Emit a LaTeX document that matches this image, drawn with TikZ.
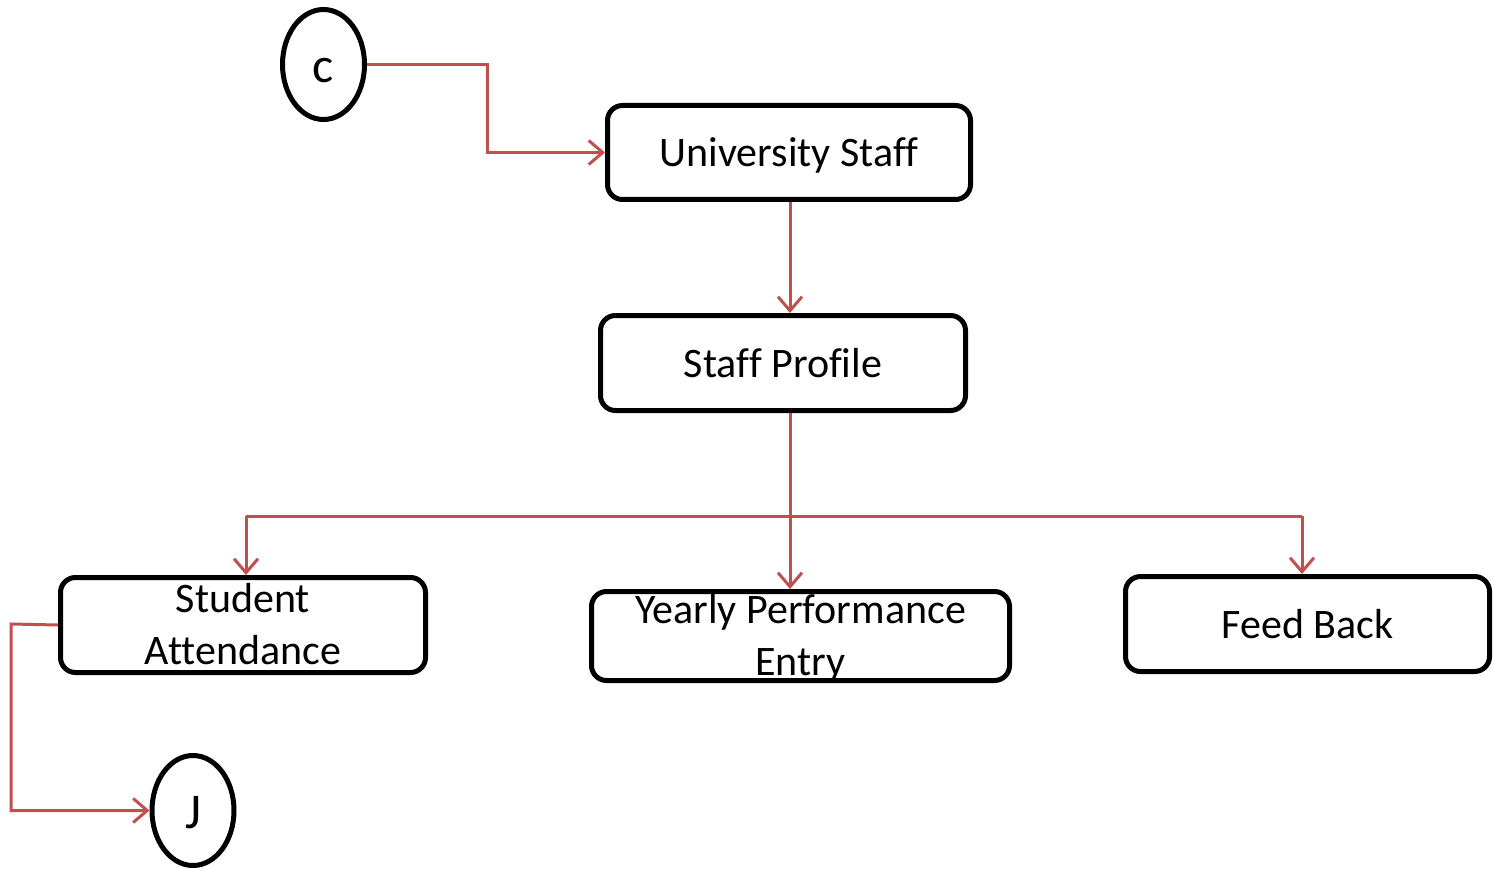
\documentclass[tikz,border=0pt]{standalone}
\usepackage{fontspec}
\setmainfont[Ligatures={NoCommon}]{Carlito}
\usetikzlibrary{arrows.meta,shapes.geometric}
\definecolor{conred}{RGB}{192,80,77}
\tikzset{
  box/.style={draw=black, line width=5pt, rounded corners=15pt, inner sep=0pt,
    font=\fontsize{42}{52}\selectfont, align=center, text depth=0pt},
  onel/.style={text height=28pt},
  twol/.style={text height=79pt},
  term/.style={draw=black, line width=5pt, ellipse, inner sep=0pt,
    minimum width=82pt, minimum height=110pt, font=\fontsize{50}{60}\selectfont,
    text depth=0pt},
  conn/.style={draw=conred, line width=3pt},
  arr/.style={conn, -{Straight Barb[length=14pt,width=24pt,line width=3pt]}}
}
\begin{document}
\begin{tikzpicture}[x=1pt,y=-1pt]
\useasboundingbox (0,0) rectangle (1493,869);
\node[term,text height=37pt] (C) at (323.5,64.5) {c};
\node[term,text height=35pt] (J) at (193,810.5) {J};
\node[box,onel,minimum width=363pt,minimum height=94pt] (US) at (789,152.5) {University Staff};
\node[box,onel,minimum width=365pt,minimum height=95pt] (SP) at (783,363) {Staff Profile};
\node[box,twol,minimum width=365pt,minimum height=95pt] (SA) at (243,625) {Student\\Attendance};
\node[box,twol,minimum width=418pt,minimum height=89pt] (YP) at (800.5,636) {Yearly Performance\\Entry};
\node[box,onel,minimum width=364pt,minimum height=95pt] (FB) at (1307.5,624) {Feed Back};
\coordinate (c1) at (487,65);
\coordinate (trunk) at (790,516);
\coordinate (b1) at (246,516);
\coordinate (b2) at (1302,516);
\coordinate (s1) at (11,624);
\draw[arr] (C.east) -| (c1) |- (US.west);
\draw[arr] (US.south -| trunk) -- (trunk |- SP.north);
\draw[arr] (trunk |- SP.south) -- (trunk |- YP.north);
\draw[conn] (b1) -- (b2);
\draw[arr] (b1) -- (b1 |- SA.north);
\draw[arr] (b2) -- (b2 |- FB.north);
\draw[arr] (SA.west) -- (s1) |- (J.west);
\end{tikzpicture}
\end{document}
